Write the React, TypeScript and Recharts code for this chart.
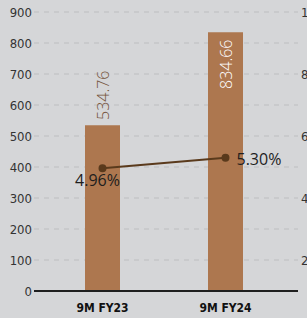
import { ComposedChart, Bar, Line, XAxis, YAxis, CartesianGrid, LabelList } from "recharts";

const periods = ["9M FY23", "9M FY24"];
const revenue = [534.76, 834.66];
const margin = [4.96, 5.3];
const leftTicks = [0, 100, 200, 300, 400, 500, 600, 700, 800, 900];
const rightTicks = [2, 4, 6, 8, 10];

const data = periods.map((p, i) => ({ period: p, revenue: revenue[i], margin: margin[i] }));

const narrow = "DejaVu Sans Condensed, Liberation Sans Narrow, Arial Narrow, sans-serif";

const BarLabel = (props: any) => {
  const { x, y, width, value } = props;
  const cx = x + width / 2 + 1;
  const inside = value > 700;
  const cy = inside ? y + 32 : y - 30;
  return (
    <text
      x={cx}
      y={cy}
      transform={`rotate(-90, ${cx}, ${cy})`}
      textAnchor="middle"
      dominantBaseline="central"
      fill={inside ? "#ffffff" : "#74533b"}
      fontSize={16}
      fontFamily="Open Sans, sans-serif"
      fontWeight={300}
    >
      {value.toFixed(2)}
    </text>
  );
};

const LineLabel = (props: any) => {
  const { x, y, value, index } = props;
  const first = index === 0;
  return (
    <text
      x={first ? x - 5 : x + 11}
      y={first ? y + 12 : y + 1}
      textAnchor={first ? "middle" : "start"}
      dominantBaseline="central"
      fill="#1e1e1e"
      fontSize={16}
      fontFamily="Open Sans, sans-serif"
    >
      {value.toFixed(2)}%
    </text>
  );
};

export default function App() {
  return (
    <div style={{ position: "fixed", left: 0, top: 0, width: 307, height: 318, overflow: "hidden", background: "#d5d6d8" }}>
      <ComposedChart width={340} height={318} data={data} margin={{ top: 12, right: 0, left: 0, bottom: 0 }}>
        <CartesianGrid yAxisId="left" vertical={false} stroke="#bdbec0" strokeDasharray="5 5" />
        <XAxis
          dataKey="period"
          padding={{ left: 7, right: 11 }}
          axisLine={{ stroke: "#1f1f1f", strokeWidth: 2 }}
          tickLine={false}
          tickSize={0}
          tickMargin={12}
          height={27}
          tick={{ fill: "#111", fontSize: 12, fontWeight: 700, fontFamily: narrow }}
        />
        <YAxis
          yAxisId="left"
          domain={[0, 900]}
          ticks={leftTicks}
          width={34}
          axisLine={false}
          tickLine={false}
          tickSize={0}
          tickMargin={2}
          tick={{ fill: "#333", fontSize: 13, fontFamily: narrow }}
        />
        <YAxis
          yAxisId="right"
          orientation="right"
          domain={[1, 10]}
          ticks={rightTicks}
          width={42}
          axisLine={false}
          tickLine={false}
          tickSize={0}
          tickMargin={3}
          tick={{ fill: "#333", fontSize: 13, fontFamily: narrow }}
        />
        <Bar yAxisId="left" dataKey="revenue" fill="#ad774f" barSize={35} isAnimationActive={false}>
          <LabelList dataKey="revenue" content={BarLabel} />
        </Bar>
        <Line
          yAxisId="right"
          dataKey="margin"
          stroke="#5a3a1c"
          strokeWidth={2}
          dot={{ r: 3, fill: "#5a3a1c", stroke: "#5a3a1c" }}
          isAnimationActive={false}
        >
          <LabelList dataKey="margin" content={LineLabel} />
        </Line>
      </ComposedChart>
    </div>
  );
}
